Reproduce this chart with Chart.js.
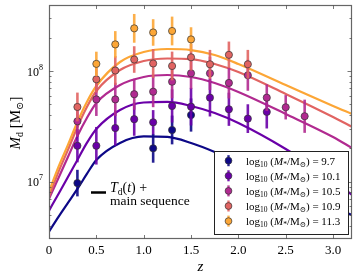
<!DOCTYPE html>
<html>
<head>
<meta charset="utf-8">
<script src="https://cdn.jsdelivr.net/npm/chart.js@4.4.0/dist/chart.umd.min.js"></script>
<style>
  html, body { margin: 0; padding: 0; background: #fff; }
</style>
</head>
<body>
<canvas id="chart1" width="357" height="280"></canvas>
<script>
// model curves, M_d vs z
const curveZ = [0, 0.1, 0.2, 0.3, 0.4, 0.5, 0.75, 1.0, 1.25, 1.5, 1.75, 2.0, 2.5, 3.0, 3.2];
const curve113 = [8.12e6, 1.36e7, 2.15e7, 3.46e7, 5.25e7, 7.32e7, 1.206e8, 1.485e8, 1.58e8, 1.547e8, 1.394e8, 1.157e8, 7.47e7, 4.83e7, 4.09e7];
const curve109 = [7.32e6, 1.224e7, 1.934e7, 3.12e7, 4.73e7, 6.6e7, 1.02e8, 1.231e8, 1.297e8, 1.283e8, 1.157e8, 9.79e7, 6.2e7, 3.84e7, 3.14e7];
const curve105 = [6.98e6, 1.08e7, 1.672e7, 2.588e7, 3.76e7, 5.14e7, 7.47e7, 8.83e7, 9.2e7, 8.83e7, 7.79e7, 6.46e7, 4.09e7, 2.534e7, 2.016e7];
const curve101 = [5.47e6, 7.74e6, 1.103e7, 1.57e7, 2.237e7, 2.99e7, 4.44e7, 5.19e7, 5.25e7, 4.83e7, 4.17e7, 3.39e7, 1.975e7, 1.036e7, 7.58e6];
const curve97 = [3.53e6, 4.8e6, 6.42e6, 8.59e6, 1.174e7, 1.57e7, 2.237e7, 2.561e7, 2.534e7, 2.237e7, 1.855e7, 1.475e7, 8.96e6, 5.79e6, 5.0e6];

// stacked measurements (error in dex)
const z97 = [0.3, 1.1, 1.3, 1.5];
const m97 = [9.7e6, 2.0e7, 2.93e7, 4.0e7];
const e97 = [0.12, 0.13, 0.13, 0.15];
const z101 = [0.3, 0.5, 0.7, 0.9, 1.1, 1.3, 1.5, 1.7, 1.9, 2.1, 2.3];
const m101 = [2.11e7, 2.11e7, 3.05e7, 3.67e7, 3.44e7, 4.83e7, 4.76e7, 5.74e7, 4.51e7, 3.71e7, 4.27e7];
const e101 = [0.15, 0.17, 0.16, 0.15, 0.11, 0.15, 0.17, 0.17, 0.15, 0.13, 0.15];
const z105 = [0.3, 0.5, 0.7, 0.9, 1.1, 1.3, 1.5, 1.7, 1.9, 2.1, 2.3, 2.5, 2.7];
const m105 = [3.51e7, 5.54e7, 5.54e7, 6.17e7, 6.5e7, 8.0e7, 9.53e7, 9.53e7, 7.8e7, 9.15e7, 5.74e7, 4.7e7, 3.9e7];
const e105 = [0.14, 0.15, 0.15, 0.14, 0.14, 0.15, 0.14, 0.15, 0.14, 0.14, 0.12, 0.11, 0.15];
const z109 = [0.3, 0.5, 0.7, 0.9, 1.1, 1.3, 1.5, 1.7, 1.9, 2.1];
const m109 = [4.73e7, 8.41e7, 1.01e8, 1.27e8, 1.17e8, 1.11e8, 1.33e8, 1.15e8, 1.40e8, 1.15e8];
const e109 = [0.13, 0.12, 0.13, 0.12, 0.13, 0.13, 0.12, 0.13, 0.12, 0.13];
const z113 = [0.5, 0.7, 0.9, 1.1, 1.3, 1.5];
const m113 = [1.16e8, 1.74e8, 2.43e8, 2.23e8, 2.30e8, 1.93e8];
const e113 = [0.11, 0.12, 0.13, 0.12, 0.13, 0.11];

const xTickVals = [0, 0.5, 1.0, 1.5, 2.0, 2.5, 3.0];
const massLabels = ['9.7', '10.1', '10.5', '10.9', '11.3'];
const colors = ['#0d0887', '#6a00a8', '#b12a90', '#e16462', '#fca636'];
const barColors = ['rgba(13,8,135,0.9)', 'rgba(106,0,168,0.9)', 'rgba(177,42,144,0.9)', 'rgba(225,100,98,0.9)', 'rgba(252,166,54,0.9)'];

const serif = '"Liberation Serif", "DejaVu Serif", serif';

function pts(xs, ys) { return xs.map((x, i) => ({ x: x, y: ys[i] })); }

function curveSet(vals, c) {
  return { data: pts(curveZ, vals), borderColor: c, borderWidth: 2.2, pointRadius: 0,
    cubicInterpolationMode: 'monotone', fill: false, order: 10 };
}
function pointSet(zs, ms, es, i) {
  return { data: pts(zs, ms), errDex: es, barColor: barColors[i], showLine: false,
    pointRadius: 3.6, pointBackgroundColor: colors[i], pointBorderColor: '#333',
    pointBorderWidth: 0.7, order: 0 };
}

function rich(ctx, x, y, parts, draw) {
  parts.forEach(p => {
    ctx.font = (p[2] || '') + ' ' + p[1] + 'px ' + serif;
    if (draw) ctx.fillText(p[0], x, y + (p[3] || 0));
    x += ctx.measureText(p[0]).width;
  });
  return x;
}

const decor = {
  id: 'decor',
  beforeDatasetDraw(chart, args) {
    const ds = chart.data.datasets[args.index];
    if (!ds.errDex) return;
    const ctx = chart.ctx, xs = chart.scales.x, ys = chart.scales.y;
    ctx.save();
    ctx.strokeStyle = ds.barColor;
    ctx.lineWidth = 2.6;
    ds.data.forEach((p, i) => {
      const f = Math.pow(10, ds.errDex[i]);
      const x = xs.getPixelForValue(p.x);
      ctx.beginPath();
      ctx.moveTo(x, ys.getPixelForValue(p.y * f));
      ctx.lineTo(x, ys.getPixelForValue(p.y / f));
      ctx.stroke();
    });
    ctx.restore();
  },
  afterDraw(chart) {
    const ctx = chart.ctx, a = chart.chartArea, xs = chart.scales.x, ys = chart.scales.y;
    ctx.save();
    // frame
    ctx.strokeStyle = '#666';
    ctx.lineWidth = 1.2;
    ctx.strokeRect(a.left + 0.5, a.top + 0.5, a.right - a.left - 1, a.bottom - a.top - 1);
    // ticks pointing in
    ctx.lineWidth = 0.8;
    ctx.strokeStyle = '#555';
    ctx.beginPath();
    xTickVals.slice(1).forEach(v => {
      const x = Math.round(xs.getPixelForValue(v)) + 0.5;
      ctx.moveTo(x, a.bottom); ctx.lineTo(x, a.bottom - 4);
      ctx.moveTo(x, a.top); ctx.lineTo(x, a.top + 4);
    });
    for (let d = 1e6; d <= 1e8; d *= 10) {
      for (let k = 1; k <= 9; k++) {
        const v = d * k;
        if (v < ys.min || v > ys.max) continue;
        const y = Math.round(ys.getPixelForValue(v)) + 0.5;
        const len = k === 1 ? 4.5 : 2.5;
        ctx.moveTo(a.left, y); ctx.lineTo(a.left + len, y);
        ctx.moveTo(a.right, y); ctx.lineTo(a.right - len, y);
      }
    }
    ctx.stroke();
    // y tick labels
    ctx.fillStyle = '#000';
    ctx.textBaseline = 'alphabetic';
    [[1e7, '7'], [1e8, '8']].forEach(t => {
      const y = ys.getPixelForValue(t[0]);
      ctx.font = '12px ' + serif;
      const w1 = ctx.measureText('10').width;
      ctx.font = '8px ' + serif;
      const w2 = ctx.measureText(t[1]).width;
      const x0 = a.left - 6 - w1 - w2;
      rich(ctx, x0, y + 4.5, [['10', 12], [t[1], 8, '', -6]], true);
    });
    // axis titles
    const yParts = [['M', 15, 'italic'], ['d', 10, '', 3], [' [M', 15], ['\u2299', 10, '', 3], [']', 15]];
    const yw = rich(ctx, 0, 0, yParts, false);
    ctx.translate(20, 123);
    ctx.rotate(-Math.PI / 2);
    rich(ctx, -yw / 2, 0, yParts, true);
    ctx.setTransform(1, 0, 0, 1, 0, 0);
    ctx.font = 'italic 15px ' + serif;
    ctx.textAlign = 'center';
    ctx.fillText('z', (a.left + a.right) / 2, 271);
    ctx.textAlign = 'left';
    // annotation
    ctx.strokeStyle = '#000';
    ctx.lineWidth = 2.5;
    ctx.beginPath();
    ctx.moveTo(91, 192.5); ctx.lineTo(106, 192.5);
    ctx.stroke();
    rich(ctx, 110, 192, [['T', 14, 'italic'], ['d', 9.5, '', 2.5], ['(', 14], ['t', 14, 'italic'], [') +', 14]], true);
    rich(ctx, 110, 205, [['main sequence', 13.5]], true);
    // legend
    const lx = 214, ly = 151, lw = 134, lh = 83;
    ctx.fillStyle = '#fff';
    ctx.fillRect(lx, ly, lw, lh);
    ctx.strokeStyle = '#222';
    ctx.lineWidth = 1;
    ctx.strokeRect(lx + 0.5, ly + 0.5, lw, lh);
    massLabels.forEach((m, i) => {
      const cy = 160.7 + i * 15.1;
      const cx = 228.5;
      ctx.strokeStyle = barColors[i];
      ctx.lineWidth = 2.4;
      ctx.beginPath(); ctx.moveTo(cx, cy - 5.5); ctx.lineTo(cx, cy + 5.5); ctx.stroke();
      ctx.beginPath(); ctx.arc(cx, cy, 3.4, 0, Math.PI * 2);
      ctx.fillStyle = colors[i]; ctx.fill();
      ctx.strokeStyle = '#333'; ctx.lineWidth = 0.7; ctx.stroke();
      ctx.fillStyle = '#000';
      rich(ctx, 246, cy + 3.8, [['log', 11], ['10', 7.5, '', 2.5], [' (', 11], ['M', 11, 'italic'],
        ['*', 7.5, '', 2.5], ['/M', 11], ['\u2299', 7.5, '', 2.5], [') = ' + m, 11]], true);
    });
    ctx.restore();
  }
};

const ctx1 = document.getElementById('chart1').getContext('2d');
const myChart1 = new Chart(ctx1, {
  type: 'line',
  data: {
    datasets: [
      pointSet(z113, m113, e113, 4),
      pointSet(z109, m109, e109, 3),
      pointSet(z105, m105, e105, 2),
      pointSet(z101, m101, e101, 1),
      pointSet(z97, m97, e97, 0),
      curveSet(curve113, colors[4]),
      curveSet(curve109, colors[3]),
      curveSet(curve105, colors[2]),
      curveSet(curve101, colors[1]),
      curveSet(curve97, colors[0])
    ]
  },
  options: {
    responsive: false,
    animation: false,
    layout: { padding: { top: 5, right: 5, left: 0, bottom: 0 } },
    plugins: { legend: { display: false }, tooltip: { enabled: false } },
    scales: {
      x: {
        type: 'linear', min: 0, max: 3.2,
        grid: { display: false, drawTicks: false },
        border: { display: false },
        afterBuildTicks: s => { s.ticks = xTickVals.map(v => ({ value: v })); },
        afterFit: s => { s.height = 41; },
        ticks: {
          padding: 4, color: '#000', maxRotation: 0, autoSkip: false,
          font: { family: serif, size: 13 },
          callback: v => v === 0 ? '0' : v.toFixed(1)
        }
      },
      y: {
        type: 'logarithmic', min: 3.03e6, max: 3.95e8,
        grid: { display: false },
        border: { display: false },
        ticks: { display: false },
        afterFit: s => { s.width = 49; }
      }
    }
  },
  plugins: [decor]
});
</script>
</body>
</html>
